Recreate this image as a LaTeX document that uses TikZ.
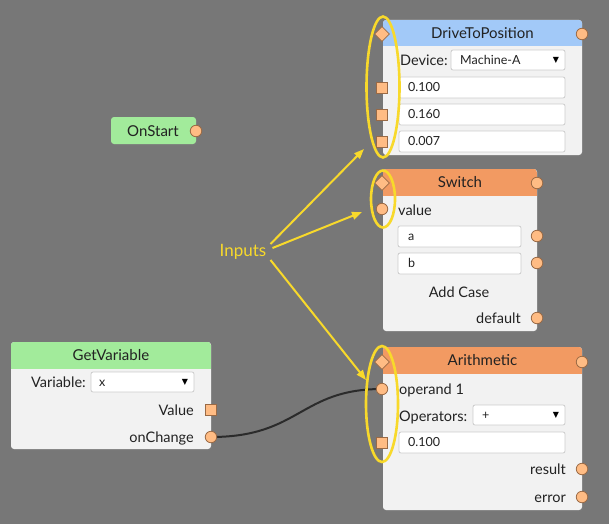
\documentclass[tikz,border=0pt]{standalone}
\usepackage{fontspec}
\setmainfont{Lato}
\newfontfamily\symf{DejaVu Sans}
\usetikzlibrary{shapes.geometric,arrows.meta,shadows,backgrounds}
\definecolor{bgc}{HTML}{777777}
\definecolor{hblue}{HTML}{A2C9F8}
\definecolor{horange}{HTML}{F29A62}
\definecolor{hgreen}{HTML}{A2EB9B}
\definecolor{bodyc}{HTML}{F2F2F2}
\definecolor{portf}{HTML}{FFBC84}
\definecolor{portd}{HTML}{9A6A45}
\definecolor{yel}{HTML}{F8D92B}
\definecolor{txt}{HTML}{222222}
\definecolor{fieldd}{HTML}{CCCCCC}
\definecolor{wirec}{HTML}{2B2B2B}
\pgfdeclarelayer{bglayer}
\pgfsetlayers{bglayer,background,main}
\tikzset{
  bodybox/.style={rectangle, rounded corners=3pt, fill=bodyc, inner sep=0pt, outer sep=0pt,
    drop shadow={shadow xshift=1pt, shadow yshift=-1.5pt, opacity=0.3}},
  titletext/.style={inner sep=0pt, text=txt, font=\fontsize{15}{16}\selectfont, text height=10pt, text depth=0pt},
  lbl/.style={inner sep=0pt, text=txt, font=\fontsize{14.5}{16}\selectfont, text height=10pt, text depth=0pt},
  fieldbox/.style={rectangle, rounded corners=2pt, fill=white, draw=fieldd, line width=0.8pt, inner sep=0pt, outer sep=0pt, anchor=north west},
  ftext/.style={inner sep=0pt, text=txt, font=\fontsize{12.5}{14}\selectfont, text height=8.5pt, text depth=0pt, anchor=west},
  ddarrow/.style={inner sep=0pt, text=black, font=\symf\fontsize{8}{8}\selectfont},
  cport/.style={circle, fill=portf, draw=portd, line width=0.8pt, minimum size=11.5pt, inner sep=0pt},
  sport/.style={rectangle, fill=portf, draw=portd, line width=0.8pt, minimum size=10.5pt, inner sep=0pt},
  dport/.style={diamond, fill=portf, draw=portd, line width=0.8pt, minimum size=15pt, inner sep=0pt},
  hilite/.style={ellipse, draw=yel, line width=2.6pt, inner sep=0pt},
  yarrow/.style={draw=yel, line width=2pt, -{Triangle[length=10pt,width=7.5pt]}},
  wire/.style={draw=wirec, line width=2pt},
}
\newcommand{\blockbox}[7]{%
  \node[bodybox, minimum width=#4pt, minimum height=#5pt, anchor=north west] (#1) at (#2,#3) {};
  \begin{scope}
    \clip[rounded corners=3pt] (#1.north west) rectangle (#1.south east);
    \fill[#6] (#1.north west) rectangle ([yshift=-26.5pt]#1.north east);
  \end{scope}
  \node[titletext] (#1-title) at ([yshift=-13.5pt]#1.north) {#7};
}
\begin{document}
\begin{tikzpicture}[x=1pt,y=-1pt]
\useasboundingbox (0,0) rectangle (609,524);
\begin{pgfonlayer}{bglayer}
  \fill[bgc] (0,0) rectangle (609,524);
\end{pgfonlayer}

% ---------- OnStart ----------
\node[bodybox, fill=hgreen, minimum width=85pt, minimum height=27pt, anchor=north west] (os) at (111,117) {};
\node[titletext] (os-title) at (153,131) {OnStart};
\node[cport] (os-out) at (196,131) {};

% ---------- DriveToPosition ----------
\blockbox{dtp}{383}{20}{199}{135}{hblue}{DriveToPosition}
\node[lbl, anchor=west] (dtp-dev) at (400,61) {Device:};
\node[fieldbox, minimum width=114pt, minimum height=20pt] (dtp-dd) at (451,50) {};
\node[ftext] (dtp-ddt) at (460,60) {Machine-A};
\node[ddarrow] (dtp-dda) at (556,60) {▼};
\node[fieldbox, minimum width=166pt, minimum height=21pt] (dtp-f1) at (399,77) {};
\node[ftext] (dtp-f1t) at (408,87.5) {0.100};
\node[fieldbox, minimum width=166pt, minimum height=21pt] (dtp-f2) at (399,104) {};
\node[ftext] (dtp-f2t) at (408,114.5) {0.160};
\node[fieldbox, minimum width=166pt, minimum height=21pt] (dtp-f3) at (399,131) {};
\node[ftext] (dtp-f3t) at (408,141.5) {0.007};
\node[dport] (dtp-in) at (382,34) {};
\node[sport] (dtp-p1) at (382,88) {};
\node[sport] (dtp-p2) at (382,115) {};
\node[sport] (dtp-p3) at (382,142) {};
\node[cport] (dtp-out) at (582,34) {};

% ---------- Switch ----------
\blockbox{sw}{383}{169}{154}{162}{horange}{Switch}
\node[lbl, anchor=west] (sw-val) at (398,210) {value};
\node[fieldbox, minimum width=123pt, minimum height=21pt] (sw-fa) at (398,226) {};
\node[ftext] (sw-fat) at (408,236.5) {a};
\node[fieldbox, minimum width=123pt, minimum height=21pt] (sw-fb) at (398,253) {};
\node[ftext] (sw-fbt) at (408,263.5) {b};
\node[lbl] (sw-add) at (459,292) {Add Case};
\node[lbl, anchor=east] (sw-def) at (521,318) {default};
\node[dport] (sw-in) at (382,183) {};
\node[cport] (sw-vin) at (382,209) {};
\node[cport] (sw-out) at (537,183) {};
\node[cport] (sw-oa) at (537,236) {};
\node[cport] (sw-ob) at (537,263) {};
\node[cport] (sw-od) at (537,318) {};

% ---------- Arithmetic ----------
\blockbox{ar}{383}{347}{199}{163}{horange}{Arithmetic}
\node[lbl, anchor=west] (ar-op1t) at (399,389) {operand 1};
\node[lbl, anchor=west] (ar-opst) at (399,416) {Operators:};
\node[fieldbox, minimum width=92pt, minimum height=20pt] (ar-dd) at (473,405) {};
\node[ftext] (ar-ddt) at (482,415) {+};
\node[ddarrow] (ar-dda) at (556,415) {▼};
\node[fieldbox, minimum width=166pt, minimum height=21pt] (ar-f) at (399,432) {};
\node[ftext] (ar-ft) at (408,442.5) {0.100};
\node[lbl, anchor=east] (ar-res) at (566,469) {result};
\node[lbl, anchor=east] (ar-err) at (566,497) {error};
\node[dport] (ar-in) at (382,362) {};
\node[cport] (ar-op1) at (382,389) {};
\node[sport] (ar-p) at (382,443) {};
\node[cport] (ar-out) at (582,362) {};
\node[cport] (ar-ores) at (582,469) {};
\node[cport] (ar-oerr) at (582,497) {};

% ---------- GetVariable ----------
\blockbox{gv}{11}{342}{200}{107}{hgreen}{GetVariable}
\node[lbl, anchor=east] (gv-var) at (86,382) {Variable:};
\node[fieldbox, minimum width=103pt, minimum height=20pt] (gv-dd) at (91,372) {};
\node[ftext] (gv-ddt) at (99,382) {x};
\node[ddarrow] (gv-dda) at (185,382) {▼};
\node[lbl, anchor=east] (gv-valt) at (194,410) {Value};
\node[lbl, anchor=east] (gv-cht) at (194,437) {onChange};
\node[sport] (gv-val) at (211,410) {};
\node[cport] (gv-change) at (211,437) {};

% ---------- wire ----------
\begin{scope}[on background layer]
  \draw[wire] (gv-change.center) .. controls (300,437) and (300,389) .. (ar-op1.center);
\end{scope}

% ---------- highlights ----------
\node[hilite, minimum width=33pt, minimum height=141pt] (el-dtp) at (383,87) {};
\node[hilite, minimum width=24pt, minimum height=57pt] (el-sw) at (383,199) {};
\node[hilite, minimum width=32pt, minimum height=116pt] (el-ar) at (382,404) {};

\node[inner sep=0pt, text=yel, font=\fontsize{17}{18}\selectfont] (inputs) at (243,252) {Inputs};
\coordinate (tip-dtp) at (364,149);
\coordinate (tip-sw) at (362,212);
\coordinate (tip-ar) at (366,380);
\draw[yarrow] ([xshift=4pt,yshift=8pt]inputs.east) -- (tip-dtp);
\draw[yarrow] ([xshift=6pt,yshift=4pt]inputs.east) -- (tip-sw);
\draw[yarrow] ([xshift=4pt,yshift=-8pt]inputs.east) -- (tip-ar);
\end{tikzpicture}
\end{document}
